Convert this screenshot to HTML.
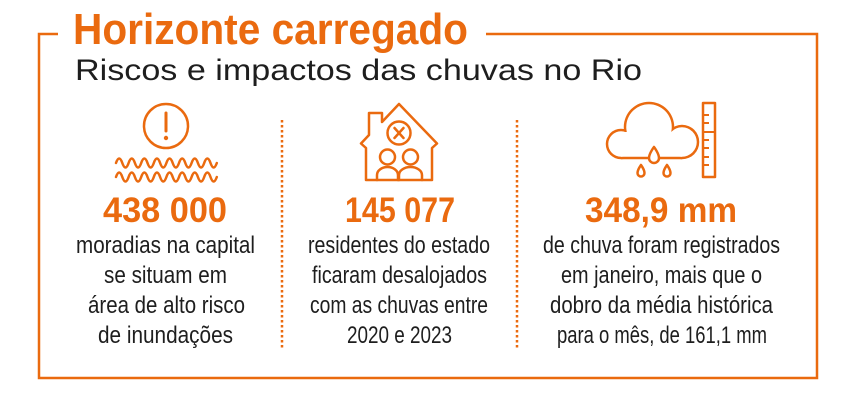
<!DOCTYPE html>
<html>
<head>
<meta charset="utf-8">
<style>
html,body{margin:0;padding:0;background:#fff;}
svg{display:block;}
text{font-family:"Liberation Sans","DejaVu Sans",sans-serif;}
</style>
</head>
<body>
<svg width="856" height="400" viewBox="0 0 856 400" xmlns="http://www.w3.org/2000/svg">
  <rect width="856" height="400" fill="#fff"/>
  <!-- frame -->
  <path d="M58,34 H39 V378 H817 V34 H486" fill="none" stroke="#ea6a0f" stroke-width="2.5"/>

  <!-- title -->
  <text x="73" y="44" font-size="44" font-weight="bold" fill="#ea6a0f" textLength="395" lengthAdjust="spacingAndGlyphs">Horizonte carregado</text>
  <text x="75" y="80" font-size="30" fill="#1e1e1e" textLength="567" lengthAdjust="spacingAndGlyphs">Riscos e impactos das chuvas no Rio</text>

  <!-- dotted separators -->
  <line x1="282" y1="120" x2="282" y2="348" stroke="#ea6a0f" stroke-width="2.5" stroke-dasharray="2.5 2.5"/>
  <line x1="517" y1="120" x2="517" y2="348" stroke="#ea6a0f" stroke-width="2.5" stroke-dasharray="2.5 2.5"/>

  <!-- icon 1: alert + waves -->
  <g fill="none" stroke="#ea6a0f" stroke-width="2.5" stroke-linecap="round" stroke-linejoin="round">
    <circle cx="166" cy="126" r="22"/>
    <line x1="166" y1="113" x2="166" y2="131" stroke-width="3"/>
    <path d="M116,163 q3.15,-9 6.3,0 t6.3,0 t6.3,0 t6.3,0 t6.3,0 t6.3,0 t6.3,0 t6.3,0 t6.3,0 t6.3,0 t6.3,0 t6.3,0 t6.3,0 t6.3,0 t6.3,0 t6.3,0"/>
    <path d="M116,177 q3.15,-9 6.3,0 t6.3,0 t6.3,0 t6.3,0 t6.3,0 t6.3,0 t6.3,0 t6.3,0 t6.3,0 t6.3,0 t6.3,0 t6.3,0 t6.3,0 t6.3,0 t6.3,0 t6.3,0"/>
  </g>
  <circle cx="166" cy="138" r="2.2" fill="#ea6a0f"/>

  <!-- icon 2: house -->
  <g fill="none" stroke="#ea6a0f" stroke-width="2.5" stroke-linecap="round" stroke-linejoin="round">
    <path d="M366,180 V148 L361,143.5 L369,135 V113 H382 V122 L399,104 L437,143.5 L432,148 V180 Z"/>
    <circle cx="399" cy="133" r="11.5"/>
    <line x1="394.5" y1="128" x2="403.5" y2="138"/>
    <line x1="403.5" y1="128" x2="394.5" y2="138"/>
    <circle cx="387.5" cy="157" r="7.5"/>
    <circle cx="410.5" cy="157" r="7.5"/>
    <path d="M377,180 V175 a10.5,8 0 0 1 21,0 V180"/>
    <path d="M399,180 V175 a11.5,8 0 0 1 23,0 V180"/>
  </g>

  <!-- icon 3: cloud + ruler -->
  <g fill="#ea6a0f">
    <circle cx="621" cy="144" r="15.25"/>
    <circle cx="649" cy="127" r="25.25"/>
    <circle cx="682" cy="142" r="17.25"/>
    <rect x="621" y="132" width="61" height="27.25"/>
  </g>
  <g fill="#fff">
    <circle cx="621" cy="144" r="12.75"/>
    <circle cx="649" cy="127" r="22.75"/>
    <circle cx="682" cy="142" r="14.75"/>
    <rect x="621" y="132" width="61" height="24.75"/>
  </g>
  <g fill="#fff" stroke="#ea6a0f" stroke-width="2.5" stroke-linejoin="round">
    <path d="M654,147 C654,147 659,153.5 659,158 a5,5 0 0 1 -10,0 C649,153.5 654,147 654,147 Z"/>
    <path d="M641,165 C641,165 644.5,170 644.5,173 a3.5,3.5 0 0 1 -7,0 C637.5,170 641,165 641,165 Z"/>
    <path d="M667,165 C667,165 670.5,170 670.5,173 a3.5,3.5 0 0 1 -7,0 C663.5,170 667,165 667,165 Z"/>
    <rect x="703" y="103" width="12" height="74" fill="none"/>
  </g>
  <g stroke="#ea6a0f" stroke-width="2">
    <line x1="703" y1="115" x2="709" y2="115"/>
    <line x1="703" y1="123" x2="709" y2="123"/>
    <line x1="703" y1="132" x2="715" y2="132"/>
    <line x1="703" y1="140" x2="709" y2="140"/>
    <line x1="703" y1="148" x2="709" y2="148"/>
    <line x1="703" y1="157" x2="709" y2="157"/>
    <line x1="703" y1="165" x2="709" y2="165"/>
  </g>

  <!-- numbers -->
  <g font-size="35" font-weight="bold" fill="#ea6a0f">
    <text x="103" y="222" textLength="124" lengthAdjust="spacingAndGlyphs">438 000</text>
    <text x="345" y="222" textLength="110" lengthAdjust="spacingAndGlyphs">145 077</text>
    <text x="585" y="222" textLength="152" lengthAdjust="spacingAndGlyphs">348,9 mm</text>
  </g>

  <!-- body text -->
  <g font-size="24" fill="#1e1e1e">
    <text x="76" y="253" textLength="179" lengthAdjust="spacingAndGlyphs">moradias na capital</text>
    <text x="104" y="283" textLength="123" lengthAdjust="spacingAndGlyphs">se situam em</text>
    <text x="88" y="313" textLength="157" lengthAdjust="spacingAndGlyphs">área de alto risco</text>
    <text x="98" y="343" textLength="135" lengthAdjust="spacingAndGlyphs">de inundações</text>

    <text x="308" y="253" textLength="182" lengthAdjust="spacingAndGlyphs">residentes do estado</text>
    <text x="312" y="283" textLength="175" lengthAdjust="spacingAndGlyphs">ficaram desalojados</text>
    <text x="310" y="313" textLength="178" lengthAdjust="spacingAndGlyphs">com as chuvas entre</text>
    <text x="347" y="343" textLength="105" lengthAdjust="spacingAndGlyphs">2020 e 2023</text>

    <text x="543" y="253" textLength="237" lengthAdjust="spacingAndGlyphs">de chuva foram registrados</text>
    <text x="561" y="283" textLength="201" lengthAdjust="spacingAndGlyphs">em janeiro, mais que o</text>
    <text x="550" y="313" textLength="223" lengthAdjust="spacingAndGlyphs">dobro da média histórica</text>
    <text x="557" y="343" textLength="210" lengthAdjust="spacingAndGlyphs">para o mês, de 161,1 mm</text>
  </g>
</svg>
</body>
</html>
